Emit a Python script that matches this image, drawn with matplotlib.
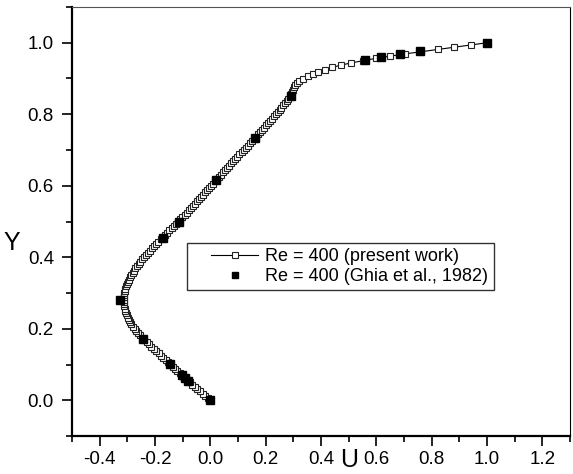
import matplotlib
matplotlib.use('Agg')
import matplotlib.pyplot as plt
from matplotlib.ticker import MultipleLocator, FormatStrFormatter
from matplotlib.legend_handler import HandlerLine2D

plt.rcParams['font.family'] = ['Liberation Sans', 'DejaVu Sans']
plt.rcParams['axes.unicode_minus'] = False

# present work: centerline U velocity, Re = 400
y_present = [
    0.0, 0.00625, 0.0125, 0.01875, 0.025, 0.03125, 0.0375, 0.04375, 0.05, 0.05625,
    0.0625, 0.06875, 0.075, 0.08125, 0.0875, 0.09375, 0.1, 0.10625, 0.1125, 0.11875,
    0.125, 0.13125, 0.1375, 0.14375, 0.15, 0.15625, 0.1625, 0.16875, 0.175, 0.18125,
    0.1875, 0.19375, 0.2, 0.20625, 0.2125, 0.21875, 0.225, 0.23125, 0.2375, 0.24375,
    0.25, 0.25625, 0.2625, 0.26875, 0.275, 0.28125, 0.2875, 0.29375, 0.3, 0.30625,
    0.3125, 0.31875, 0.325, 0.33125, 0.3375, 0.34375, 0.35, 0.35625, 0.3625, 0.36875,
    0.375, 0.38125, 0.3875, 0.39375, 0.4, 0.40625, 0.4125, 0.41875, 0.425, 0.43125,
    0.4375, 0.44375, 0.45, 0.45625, 0.4625, 0.46875, 0.475, 0.48125, 0.4875, 0.49375,
    0.5, 0.50625, 0.5125, 0.51875, 0.525, 0.53125, 0.5375, 0.54375, 0.55, 0.55625,
    0.5625, 0.56875, 0.575, 0.58125, 0.5875, 0.59375, 0.6, 0.60625, 0.6125, 0.61875,
    0.625, 0.63125, 0.6375, 0.64375, 0.65, 0.65625, 0.6625, 0.66875, 0.675, 0.68125,
    0.6875, 0.69375, 0.7, 0.70625, 0.7125, 0.71875, 0.725, 0.73125, 0.7375, 0.74375,
    0.75, 0.75625, 0.7625, 0.76875, 0.775, 0.78125, 0.7875, 0.79375, 0.8, 0.80625,
    0.8125, 0.81875, 0.825, 0.83125, 0.8375, 0.84375, 0.85, 0.85625, 0.8625, 0.86875,
    0.875, 0.88125, 0.8875, 0.89375, 0.9, 0.90625, 0.9125, 0.91875, 0.925, 0.93125,
    0.9375, 0.94375, 0.95, 0.95625, 0.9625, 0.96875, 0.975, 0.98125, 0.9875, 0.99375,
    1.0]
u_present = [
    0.000, -0.010, -0.019, -0.028, -0.038, -0.047, -0.056, -0.066, -0.075, -0.084,
    -0.093, -0.101, -0.110, -0.119, -0.127, -0.136, -0.145, -0.153, -0.162, -0.170,
    -0.179, -0.187, -0.196, -0.204, -0.213, -0.221, -0.229, -0.238, -0.246, -0.253,
    -0.260, -0.267, -0.273, -0.279, -0.285, -0.290, -0.294, -0.298, -0.302, -0.305,
    -0.307, -0.309, -0.311, -0.312, -0.313, -0.313, -0.313, -0.312, -0.311, -0.309,
    -0.307, -0.304, -0.301, -0.298, -0.294, -0.290, -0.286, -0.281, -0.276, -0.271,
    -0.265, -0.259, -0.253, -0.247, -0.240, -0.233, -0.226, -0.219, -0.212, -0.204,
    -0.196, -0.188, -0.180, -0.172, -0.164, -0.156, -0.148, -0.140, -0.132, -0.124,
    -0.116, -0.108, -0.101, -0.093, -0.086, -0.078, -0.071, -0.064, -0.056, -0.049,
    -0.042, -0.034, -0.027, -0.020, -0.013, -0.005, 0.002, 0.009, 0.016, 0.023,
    0.031, 0.038, 0.045, 0.053, 0.060, 0.068, 0.075, 0.083, 0.090, 0.098,
    0.105, 0.113, 0.120, 0.128, 0.135, 0.143, 0.150, 0.158, 0.165, 0.172,
    0.180, 0.187, 0.194, 0.201, 0.208, 0.215, 0.222, 0.229, 0.236, 0.243,
    0.250, 0.256, 0.263, 0.269, 0.276, 0.282, 0.288, 0.292, 0.295, 0.298,
    0.301, 0.305, 0.312, 0.322, 0.336, 0.352, 0.370, 0.390, 0.414, 0.441,
    0.473, 0.510, 0.553, 0.597, 0.650, 0.703, 0.762, 0.822, 0.882, 0.942,
    1.000]

# Ghia et al. (1982), Re = 400
y_ghia = [0.0, 0.0547, 0.0625, 0.0703, 0.1016, 0.1719, 0.2813, 0.4531, 0.5,
          0.6172, 0.7344, 0.8516, 0.9531, 0.9609, 0.9688, 0.9766, 1.0]
u_ghia = [0.0, -0.08186, -0.09266, -0.10338, -0.14612, -0.24299, -0.32726,
          -0.17119, -0.11477, 0.02135, 0.16256, 0.29093, 0.55892, 0.61756,
          0.68439, 0.75837, 1.0]

fig = plt.figure(figsize=(5.73, 4.74), dpi=100)
ax = fig.add_axes([72 / 573, 38 / 474, 498 / 573, 429 / 474])

line_p, = ax.plot(u_present, y_present, color='black', lw=0.8, marker='s',
                  markersize=5, markerfacecolor='white', markeredgecolor='#222222',
                  markeredgewidth=0.8, label='Re = 400 (present work)')
line_g, = ax.plot(u_ghia, y_ghia, linestyle='none', marker='s', markersize=5.5,
                  color='black', label='Re = 400 (Ghia et al., 1982)')

ax.set_xlim(-0.5, 1.3)
ax.set_ylim(-0.1, 1.1)
ax.xaxis.set_minor_locator(MultipleLocator(0.1))
ax.yaxis.set_minor_locator(MultipleLocator(0.1))
ax.xaxis.set_major_formatter(FormatStrFormatter('%.1f'))
ax.yaxis.set_major_formatter(FormatStrFormatter('%.1f'))
ax.set_xticks([-0.4, -0.2, 0.0, 0.2, 0.4, 0.6, 0.8, 1.0, 1.2])
ax.set_yticks([0.0, 0.2, 0.4, 0.6, 0.8, 1.0])

ax.tick_params(which='major', direction='out', length=7, width=1.2,
               labelsize=13.5, top=False, right=False)
ax.tick_params(axis='y', which='major', pad=6)
ax.tick_params(axis='x', which='major', pad=4)
ax.tick_params(which='minor', direction='out', length=4, width=1.2,
               top=False, right=False)

ax.spines['left'].set_linewidth(1.6)
ax.spines['bottom'].set_linewidth(1.6)
ax.spines['top'].set_linewidth(0.8)
ax.spines['top'].set_color('#555555')
ax.spines['right'].set_linewidth(0.8)

# axis titles sit in line with the tick labels, as in the original
ax.text(0.557, -0.057, 'U', transform=ax.transAxes, ha='center', va='center',
        fontsize=18)
ax.text(-0.12, 0.45, 'Y', transform=ax.transAxes, ha='center', va='center',
        fontsize=18)

leg = ax.legend(handles=[line_p, line_g], loc='upper left',
                bbox_to_anchor=(0.231, 0.45), borderaxespad=0, fontsize=13,
                frameon=True, fancybox=False, framealpha=1, edgecolor='#333333',
                handlelength=3.65, handletextpad=0.38, borderpad=0.3,
                labelspacing=0.15, markerscale=0.8,
                handler_map={line_p: HandlerLine2D(xpad=1.05, numpoints=1),
                             line_g: HandlerLine2D(xpad=1.05, numpoints=1)})
leg.get_frame().set_linewidth(1.0)

fig.savefig('out.png', dpi=100)
